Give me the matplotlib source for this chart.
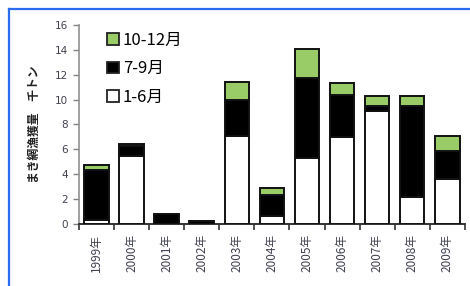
import matplotlib
matplotlib.use("Agg")
import matplotlib.pyplot as plt
from matplotlib.patches import Patch
from matplotlib.lines import Line2D
import numpy as np

plt.rcParams['font.family'] = ['Noto Sans CJK JP', 'DejaVu Sans']

years = ["1999年", "2000年", "2001年", "2002年", "2003年", "2004年",
         "2005年", "2006年", "2007年", "2008年", "2009年"]
jan_jun = [0.3, 5.5, 0.0, 0.0, 7.1, 0.6, 5.3, 7.0, 9.1, 2.2, 3.6]
jul_sep = [4.0, 0.8, 0.8, 0.2, 2.9, 1.7, 6.4, 3.4, 0.4, 7.3, 2.3]
oct_dec = [0.4, 0.1, 0.0, 0.0, 1.4, 0.6, 2.4, 0.9, 0.8, 0.8, 1.2]
series_labels = ["1-6月", "7-9月", "10-12月"]
colors = ["#FFFFFF", "#000000", "#99CC66"]
yticks = [0, 2, 4, 6, 8, 10, 12, 14, 16]
ylabel = "まき網漁獲量　千トン"

fig = plt.figure(figsize=(4.7, 2.86), dpi=100)
ax = fig.add_axes([0.168, 0.217, 0.821, 0.696])

x = np.arange(len(years))
bottom = np.zeros(len(years))
w = 0.7
for vals, c, lab in zip([jan_jun, jul_sep, oct_dec], colors, series_labels):
    v = np.array(vals)
    ax.bar(x, v, width=w, bottom=bottom, color=c, edgecolor="#111111",
           linewidth=1.4, label=lab, zorder=3)
    bottom = bottom + v

ax.set_xlim(-0.5, len(years) - 0.5)
ax.set_ylim(0, 16)
ax.set_yticks(yticks)
ax.set_yticklabels([str(t) for t in yticks], fontsize=7.5, color="#404050",
                   family=['DejaVu Sans'])
ax.set_xticks(x)
ax.set_xticklabels(years, rotation=90, fontsize=8.5, color="#404050")
ax.set_xticks(np.arange(-0.5, len(years)), minor=True)
ax.tick_params(axis='x', which='major', length=0, pad=7)
ax.tick_params(axis='x', which='minor', length=4, width=1.2, color="#333333", direction='out')
ax.tick_params(axis='y', length=4, width=1.0, color="#808080", direction='out', pad=4)

for s in ["top", "right"]:
    ax.spines[s].set_visible(False)
ax.spines["left"].set_color("#909090")
ax.spines["left"].set_linewidth(1.2)
ax.spines["bottom"].set_color("#333333")
ax.spines["bottom"].set_linewidth(1.4)

ax.set_ylabel(ylabel, fontsize=8.5, fontweight='bold', color="#202020", labelpad=10)

handles = [Patch(facecolor=colors[2], edgecolor="#222222", linewidth=1.3),
           Patch(facecolor=colors[1], edgecolor="#222222", linewidth=1.3),
           Patch(facecolor=colors[0], edgecolor="#222222", linewidth=1.3)]
leg = ax.legend(handles, [series_labels[2], series_labels[1], series_labels[0]],
                loc="upper left", bbox_to_anchor=(0.055, 1.0), frameon=False,
                fontsize=12, handlelength=0.7, handleheight=0.7,
                handletextpad=0.25, labelspacing=0.7, borderaxespad=0)

# blue frame of the chart area
fig.add_artist(Line2D([9/470, 9/470], [0, 1 - 9/286], transform=fig.transFigure,
                      color="#2B6BF0", linewidth=1.6))
fig.add_artist(Line2D([9/470, 1], [1 - 9/286, 1 - 9/286], transform=fig.transFigure,
                      color="#2B6BF0", linewidth=1.6))

fig.savefig("out.png", dpi=100)
